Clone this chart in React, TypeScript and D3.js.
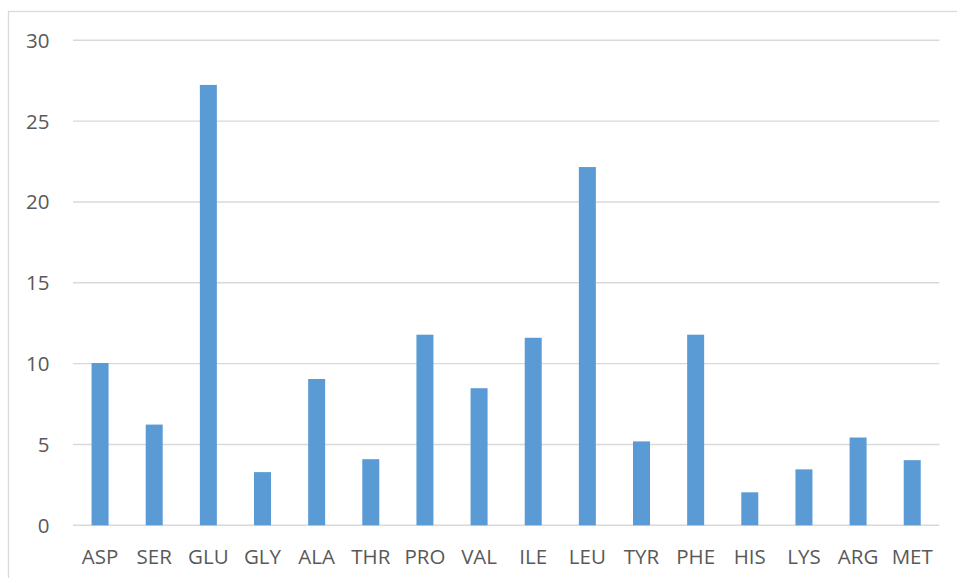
import React from "react";
import * as d3 from "d3";

const categories = ["ASP", "SER", "GLU", "GLY", "ALA", "THR", "PRO", "VAL", "ILE", "LEU", "TYR", "PHE", "HIS", "LYS", "ARG", "MET"];
const values = [10.04, 6.23, 27.24, 3.29, 9.05, 4.09, 11.79, 8.48, 11.6, 22.16, 5.19, 11.79, 2.04, 3.46, 5.43, 4.03];
const yTicks = [0, 5, 10, 15, 20, 25, 30];

const W = 957;
const H = 578;
const left = 73;
const right = 939.3;
const top = 40.3;
const bottom = 525.3;

export default function App() {
  const x = d3.scaleBand<string>().domain(categories).range([left, right]).paddingInner(0.686).paddingOuter(0.343);
  const y = d3.scaleLinear().domain([0, 30]).range([bottom, top]);
  const font = "'Open Sans', sans-serif";
  return (
    <svg width={W} height={H} style={{ position: "absolute", left: 0, top: 0, background: "#fff" }}>
      <rect x={8.5} y={11.5} width={W + 10} height={H + 10} fill="#fff" stroke="#d9d9d9" strokeWidth={1.3} />
      {yTicks.map((t) => (
        <g key={t}>
          <line x1={left} x2={right} y1={y(t)} y2={y(t)} stroke="#d9d9d9" strokeWidth={1.4} />
          <text x={49.5} y={y(t)} dy="0.36em" textAnchor="end" fontFamily={font} fontSize={20.5} fill="#595959">
            {t}
          </text>
        </g>
      ))}
      {categories.map((c, i) => (
        <rect key={c} x={x(c)} y={y(values[i])} width={x.bandwidth()} height={bottom - y(values[i])} fill="#5b9bd5" />
      ))}
      {categories.map((c) => (
        <text key={c} x={(x(c) as number) + x.bandwidth() / 2} y={563.5} textAnchor="middle" fontFamily={font} fontSize={20.5} fill="#595959">
          {c}
        </text>
      ))}
    </svg>
  );
}
